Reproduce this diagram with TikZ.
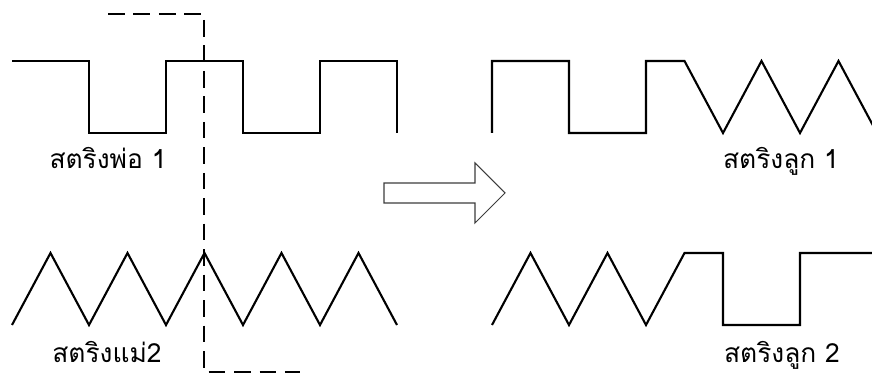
\documentclass[tikz,border=0pt]{standalone}
\usepackage{fontspec}
\newfontfamily\thaifont[Script=Thai]{Loma}
\usetikzlibrary{positioning}
\definecolor{wave}{RGB}{0, 0, 0}
\definecolor{label}{RGB}{40, 40, 40}
\definecolor{outline}{RGB}{60, 60, 60}

\begin{document}
\begin{tikzpicture}[x=0.02cm, y=-0.02cm,
    string/.style={wave, line width=1.2pt, line join=miter},
    cut/.style={wave, line width=1.2pt, dash pattern=on 9.5pt off 5pt},
    tag/.style={label, font=\thaifont\fontsize{15}{18}\selectfont, anchor=base, inner sep=0pt}]
        \useasboundingbox (0,0) rectangle (872,374);
        \clip (0,0) rectangle (872,374);

        % parents
        \draw[string] (12,61) -- (89,61) -- (89,133) -- (166,133) -- (166,61) -- (243,61)
            -- (243,133) -- (320,133) -- (320,61) -- (397,61) -- (397,133);
        \draw[string] (12,325)
            \foreach \x in {0,77,154,231,308} { -- ({50.5+\x},253) -- ({89+\x},325) };

        % cut point
        \draw[cut] (108,14) -- (204,14) -- (204,372) -- (300,372);

        % children
        \draw[string] (492,133) -- (492,61) -- (569,61) -- (569,133) -- (646,133) -- (646,61)
            -- (684.5,61) -- (723,133) -- (761.5,61) -- (800,133) -- (838.5,61) -- (877,133);
        \draw[string] (492,325) -- (530.5,253) -- (569,325) -- (607.5,253) -- (646,325)
            -- (684.5,253) -- (723,253) -- (723,325) -- (800,325) -- (800,253) -- (877,253);

        % arrow
        \draw[outline, line width=0.6pt] (384,183) -- (475,183) -- (475,163) -- (505,193)
            -- (475,223) -- (475,203) -- (384,203) -- cycle;

        \node[tag] (father) at (108,169) {สตริงพ่อ 1};
        \node[tag] (mother) at (107,363) {สตริงแม่2};
        \node[tag] (child1) at (781,169) {สตริงลูก 1};
        \node[tag] (child2) at (782,363) {สตริงลูก 2};

    \end{tikzpicture}
\end{document}
